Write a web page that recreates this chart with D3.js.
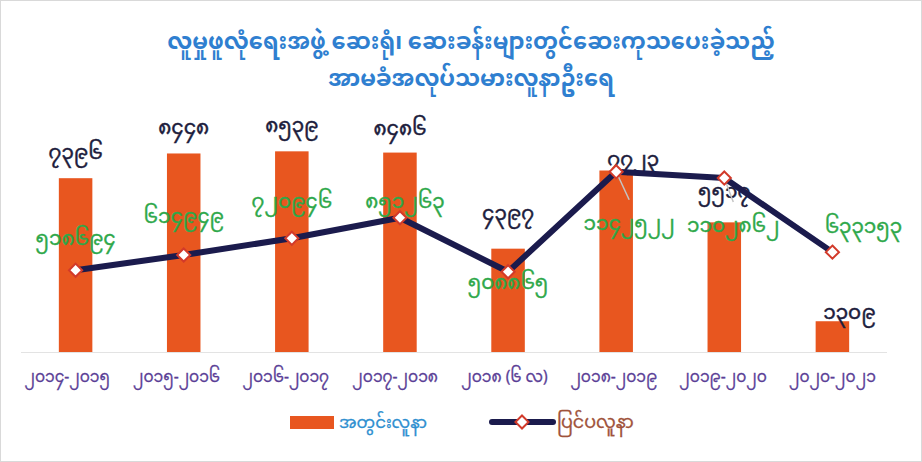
<!DOCTYPE html>
<html>
<head>
<meta charset="utf-8">
<script src="https://cdn.jsdelivr.net/npm/d3@7"></script>
<style>
  body { margin: 0; background: #fff; }
  svg { display: block; font-family: "Noto Sans Myanmar", "Padauk", "Myanmar Text", "Noto Sans", sans-serif; }
</style>
</head>
<body>
<div id="chart"></div>
<script>
const periods = [
  "၂၀၁၄-၂၀၁၅", "၂၀၁၅-၂၀၁၆", "၂၀၁၆-၂၀၁၇", "၂၀၁၇-၂၀၁၈",
  "၂၀၁၈ (၆ လ)", "၂၀၁၈-၂၀၁၉", "၂၀၁၉-၂၀၂၀", "၂၀၂၀-၂၀၂၁"
];
const inpatients = [7396, 8448, 8539, 8486, 4397, 7723, 5517, 1309];
const outpatients = [518694, 614949, 720946, 851263, 508865, 1142522, 1102862, 633153];
const titleLines = [
  "လူမှုဖူလုံရေးအဖွဲ့ ဆေးရုံ၊ ဆေးခန်းများတွင်ဆေးကုသပေးခဲ့သည့်",
  "အာမခံအလုပ်သမားလူနာဦးရေ"
];
const legendNames = ["အတွင်းလူနာ", "ပြင်ပလူနာ"];

const width = 922;
const height = 462;
const baseY = 352;
const topY = 117;

// label nudges tuned by eye to the reference
const barLabelShift = [[0, -26], [0, -26], [0, -26], [0, -25], [0, -36], [17, -12], [0, -31], [17, -9]];
const lineLabelShift = [[0, -32], [0, -39], [0, -37], [5, -17], [0, 10], [13, 51], [9, 47], [31, -26]];

const myDigits = "၀၁၂၃၄၅၆၇၈၉";
const toMy = n => String(n).replace(/\d/g, d => myDigits[d]);

const svg = d3.select("#chart").append("svg")
  .attr("width", width)
  .attr("height", height);

svg.append("rect")
  .attr("x", 0.5).attr("y", 0.5)
  .attr("width", width - 1).attr("height", height - 1)
  .attr("fill", "#fff")
  .attr("stroke", "#d9d9d9");

svg.selectAll(".title")
  .data(titleLines)
  .join("text")
  .attr("class", "title")
  .attr("x", 471)
  .attr("y", (d, i) => 49 + i * 37)
  .attr("text-anchor", "middle")
  .attr("font-size", 22.5)
  .attr("font-weight", "bold")
  .attr("fill", "#2f7fd0")
  .text(d => d);

const x = d3.scaleBand()
  .domain(periods)
  .range([21, 887])
  .paddingInner(0.69)
  .paddingOuter(0.35);

const yBar = d3.scaleLinear().domain([0, 10000]).range([baseY, topY]);
const yLine = d3.scaleLinear().domain([0, 1490000]).range([baseY, topY]);
const cx = d => x(d) + x.bandwidth() / 2;

svg.append("line")
  .attr("x1", 21).attr("x2", 887)
  .attr("y1", baseY + 0.5).attr("y2", baseY + 0.5)
  .attr("stroke", "#e3e3e3");

svg.append("g")
  .selectAll("rect")
  .data(periods)
  .join("rect")
  .attr("x", d => x(d))
  .attr("y", (d, i) => yBar(inpatients[i]))
  .attr("width", x.bandwidth())
  .attr("height", (d, i) => baseY - yBar(inpatients[i]))
  .attr("fill", "#e8561f");

svg.append("g")
  .selectAll("text")
  .data(periods)
  .join("text")
  .attr("x", (d, i) => cx(d) + barLabelShift[i][0])
  .attr("y", (d, i) => yBar(inpatients[i]) + barLabelShift[i][1])
  .attr("dy", "0.35em")
  .attr("text-anchor", "middle")
  .attr("font-size", 20)
  .attr("fill", "#1c1c3c")
  .attr("stroke", "#1c1c3c")
  .attr("stroke-width", 0.5)
  .text((d, i) => toMy(inpatients[i]));

svg.append("g")
  .selectAll("text")
  .data(periods)
  .join("text")
  .attr("x", (d, i) => cx(d) - (7 - i) * 1.2)
  .attr("y", 377)
  .attr("dy", "0.35em")
  .attr("text-anchor", "middle")
  .attr("font-size", 15.5)
  .attr("fill", "#5a3e96")
  .attr("stroke", "#5a3e96")
  .attr("stroke-width", 0.3)
  .text(d => d);

// leader lines for the two labels that sit away from their points
svg.append("g")
  .selectAll("line")
  .data([5, 6])
  .join("line")
  .attr("x1", i => cx(periods[i]))
  .attr("y1", i => yLine(outpatients[i]))
  .attr("x2", i => cx(periods[i]) + lineLabelShift[i][0])
  .attr("y2", i => yLine(outpatients[i]) + lineLabelShift[i][1] - 23)
  .attr("stroke", "#c4c4c4")
  .attr("stroke-width", 1.5);

const line = d3.line()
  .x(d => cx(d))
  .y((d, i) => yLine(outpatients[i]));

svg.append("path")
  .datum(periods)
  .attr("d", line)
  .attr("fill", "none")
  .attr("stroke", "#1b1b4d")
  .attr("stroke-width", 6)
  .attr("stroke-linejoin", "round");

const diamond = d3.symbol().type(d3.symbolDiamond2).size(110);

svg.append("g")
  .selectAll("path")
  .data(periods)
  .join("path")
  .attr("transform", (d, i) => `translate(${cx(d)},${yLine(outpatients[i])})`)
  .attr("d", diamond)
  .attr("fill", "#fff")
  .attr("stroke", "#d23a2a")
  .attr("stroke-width", 2);

svg.append("g")
  .selectAll("text")
  .data(periods)
  .join("text")
  .attr("x", (d, i) => cx(d) + lineLabelShift[i][0])
  .attr("y", (d, i) => yLine(outpatients[i]) + lineLabelShift[i][1])
  .attr("dy", "0.35em")
  .attr("text-anchor", "middle")
  .attr("font-size", 20)
  .attr("fill", "#2ea84a")
  .attr("stroke", "#2ea84a")
  .attr("stroke-width", 0.4)
  .text((d, i) => toMy(outpatients[i]));

// legend
const legend = svg.append("g");
legend.append("rect")
  .attr("x", 290).attr("y", 416)
  .attr("width", 44).attr("height", 13)
  .attr("fill", "#e8561f");
legend.append("text")
  .attr("x", 339).attr("y", 422)
  .attr("dy", "0.35em")
  .attr("font-size", 16.5)
  .attr("fill", "#2e8fd0")
  .attr("stroke", "#2e8fd0")
  .attr("stroke-width", 0.3)
  .text(legendNames[0]);
legend.append("line")
  .attr("x1", 492).attr("x2", 553)
  .attr("y1", 422).attr("y2", 422)
  .attr("stroke", "#1b1b4d")
  .attr("stroke-width", 6)
  .attr("stroke-linecap", "round");
legend.append("path")
  .attr("transform", "translate(522,422)")
  .attr("d", diamond)
  .attr("fill", "#fff")
  .attr("stroke", "#d23a2a")
  .attr("stroke-width", 2);
legend.append("text")
  .attr("x", 557).attr("y", 422)
  .attr("dy", "0.35em")
  .attr("font-size", 17.5)
  .attr("fill", "#a0523a")
  .attr("stroke", "#a0523a")
  .attr("stroke-width", 0.3)
  .text(legendNames[1]);
</script>
</body>
</html>
